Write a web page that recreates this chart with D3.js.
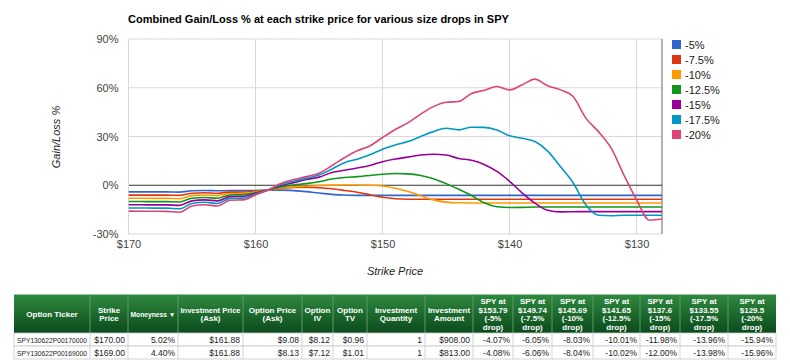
<!DOCTYPE html>
<html>
<head>
<meta charset="utf-8">
<script src="https://cdn.jsdelivr.net/npm/d3@7"></script>
<style>
  html, body { margin: 0; padding: 0; background: #fff; }
  svg { display: block; font-family: Arial, "Liberation Sans", sans-serif; }
</style>
</head>
<body>
<svg id="chart" width="790" height="360"></svg>
<script>
// ---------- DATA ----------
const title = "Combined Gain/Loss % at each strike price for various size drops in SPY";
const strikes = [170,169,168,167,166,165,164,163,162,161,160,159,158,157,156,155,154,153,152,151,150,149,148,147,146,145,144,143,142,141,140,139,138,137,136,135,134,133,132,131,130,129,128];
const seriesNames = ["-5%","-7.5%","-10%","-12.5%","-15%","-17.5%","-20%"];
const seriesColors = ["#3366cc","#dc3912","#ff9900","#109618","#990099","#0099c6","#dd4477"];
const drop5   = [-4.07,-4.08,-4.1,-4.1,-4.2,-3.4,-3.2,-3.4,-3.3,-3.3,-3.2,-3.0,-3.0,-3.3,-3.9,-4.8,-5.6,-6.0,-6.2,-6.2,-6.2,-6.2,-6.2,-6.2,-6.2,-6.2,-6.2,-6.2,-6.2,-6.2,-6.2,-6.2,-6.2,-6.2,-6.2,-6.2,-6.2,-6.2,-6.2,-6.2,-6.2,-6.2,-6.2];
const drop75  = [-6.05,-6.06,-6.1,-6.1,-6.2,-4.9,-4.6,-4.9,-4.2,-4.2,-3.6,-3.0,-2.0,-1.4,-1.2,-1.5,-2.2,-3.2,-4.3,-5.8,-7.4,-8.3,-8.6,-8.6,-8.6,-8.6,-8.6,-8.6,-8.6,-8.6,-8.6,-8.6,-8.6,-8.6,-8.6,-8.6,-8.6,-8.6,-8.6,-8.6,-8.6,-8.6,-8.6];
const drop10  = [-8.03,-8.04,-8.1,-8.1,-8.3,-6.4,-6.0,-6.4,-5.1,-5.0,-4.2,-3.0,-1.8,-1.0,-0.6,-0.2,0.1,0.2,0.2,0.0,-0.5,-1.8,-3.8,-6.4,-9.0,-10.4,-10.8,-10.9,-10.9,-10.9,-10.9,-10.9,-10.9,-10.9,-10.9,-10.9,-10.9,-10.9,-10.9,-10.9,-10.9,-10.9,-10.9];
const drop125 = [-10.01,-10.02,-10.1,-10.1,-10.3,-8.0,-7.5,-8.0,-6.0,-5.8,-4.6,-2.9,-1.0,0.2,1.0,2.2,3.8,4.8,5.3,6.0,6.8,7.2,7.0,6.0,4.0,1.0,-2.5,-6.3,-10.8,-13.2,-13.7,-13.6,-13.4,-13.4,-13.4,-13.4,-13.4,-13.4,-13.4,-13.4,-13.4,-13.4,-13.4];
const drop15  = [-11.98,-12.0,-12.1,-12.1,-12.4,-9.6,-9.0,-9.6,-7.0,-6.8,-5.0,-2.9,-0.2,1.6,3.5,5.0,7.8,9.2,10.6,12.2,14.5,16.1,17.3,18.6,19.1,18.6,16.5,15.4,12.8,8.5,2.4,-4.8,-11.0,-15.4,-16.4,-16.3,-16.2,-16.2,-16.2,-16.2,-16.2,-16.2,-16.2];
const drop175 = [-13.96,-13.98,-14.1,-14.1,-14.5,-11.2,-10.5,-11.2,-8.1,-7.9,-5.5,-2.9,0.4,2.5,4.4,6.3,9.9,13.9,16.0,18.7,22.2,24.8,26.9,30.0,33.0,35.1,34.1,35.7,35.6,34.0,30.4,28.9,26.9,21.0,11.5,1.5,-12.0,-18.5,-18.8,-18.5,-18.5,-18.5,-18.5];
const drop20  = [-15.94,-15.96,-16.0,-16.1,-16.6,-12.8,-12.0,-12.8,-9.2,-9.0,-6.0,-2.9,1.1,3.5,5.3,7.4,12.0,16.9,21.2,24.2,29.4,34.3,38.4,43.8,48.4,51.1,51.5,56.5,58.4,60.8,58.7,61.8,65.3,61.2,58.7,54.6,41.3,33.0,22.8,6.3,-9.0,-21.5,-20.8];
const seriesValues = [drop5, drop75, drop10, drop125, drop15, drop175, drop20];
const yTicks = [-30, 0, 30, 60, 90];
const xTicks = [170, 160, 150, 140, 130];

// Table data
const tableHeaders = [
  ["Option Ticker"], ["Strike", "Price"], ["Moneyness  \u25BC"], ["Investment Price", "(Ask)"],
  ["Option Price", "(Ask)"], ["Option", "IV"], ["Option", "TV"], ["Investment", "Quantity"],
  ["Investment", "Amount"],
  ["SPY at", "$153.79", "(-5%", "drop)"], ["SPY at", "$149.74", "(-7.5%", "drop)"],
  ["SPY at", "$145.69", "(-10%", "drop)"], ["SPY at", "$141.65", "(-12.5%", "drop)"],
  ["SPY at", "$137.6", "(-15%", "drop)"], ["SPY at", "$133.55", "(-17.5%", "drop)"],
  ["SPY at", "$129.5", "(-20%", "drop)"]
];
const tableRows = [
  ["SPY130622P00170000","$170.00","5.02%","$161.88","$9.08","$8.12","$0.96","1","$908.00","-4.07%","-6.05%","-8.03%","-10.01%","-11.98%","-13.96%","-15.94%"],
  ["SPY130622P00169000","$169.00","4.40%","$161.88","$8.13","$7.12","$1.01","1","$813.00","-4.08%","-6.06%","-8.04%","-10.02%","-12.00%","-13.98%","-15.96%"]
];

// ---------- LAYOUT ----------
const svg = d3.select("#chart");
const plot = { left: 128.5, right: 662, top: 39, bottom: 234 };

const x = d3.scaleLinear().domain([170, 128]).range([plot.left, plot.right]);
const y = d3.scaleLinear().domain([-30, 90]).range([plot.bottom, plot.top]);

// Title
svg.append("text").attr("x", 128).attr("y", 23)
  .attr("font-size", 11).attr("font-weight", "bold").attr("fill", "#000")
  .text(title);

// Horizontal gridlines
svg.append("g").selectAll("line").data(yTicks.filter(d => d !== 0)).join("line")
  .attr("x1", plot.left).attr("x2", plot.right)
  .attr("y1", d => y(d)).attr("y2", d => y(d))
  .attr("stroke", "#d9d9d9").attr("stroke-width", 1);

// Vertical gridlines
svg.append("g").selectAll("line").data(xTicks).join("line")
  .attr("x1", d => x(d)).attr("x2", d => x(d))
  .attr("y1", plot.top).attr("y2", plot.bottom)
  .attr("stroke", "#d9d9d9").attr("stroke-width", 1);

// Right edge baseline
svg.append("line").attr("x1", plot.right).attr("x2", plot.right)
  .attr("y1", plot.top).attr("y2", plot.bottom)
  .attr("stroke", "#999").attr("stroke-width", 1.5);

// Y axis labels
const yAxis = d3.axisLeft(y).tickValues(yTicks).tickFormat(d => d + "%").tickSize(0).tickPadding(10);
const gy = svg.append("g").attr("transform", `translate(${plot.left},0)`).call(yAxis);
gy.select(".domain").remove();
gy.selectAll("text").attr("font-size", 11).attr("fill", "#444").attr("font-family", "Arial, 'Liberation Sans', sans-serif");

// X axis labels
const xAxis = d3.axisBottom(x).tickValues(xTicks).tickFormat(d => "$" + d).tickSize(0).tickPadding(6);
const gx = svg.append("g").attr("transform", `translate(0,${plot.bottom})`).call(xAxis);
gx.select(".domain").remove();
gx.selectAll("text").attr("font-size", 11).attr("fill", "#444").attr("font-family", "Arial, 'Liberation Sans', sans-serif");

// Axis titles
svg.append("text").attr("x", 395).attr("y", 275).attr("text-anchor", "middle")
  .attr("font-size", 11).attr("font-style", "italic").attr("fill", "#222").text("Strike Price");
svg.append("text").attr("transform", "translate(60,137) rotate(-90)").attr("text-anchor", "middle")
  .attr("font-size", 11).attr("font-style", "italic").attr("fill", "#222").text("Gain/Loss %");

// Clip
svg.append("clipPath").attr("id", "clip").append("rect")
  .attr("x", plot.left).attr("y", plot.top - 5)
  .attr("width", plot.right - plot.left).attr("height", plot.bottom - plot.top + 10);

// Zero baseline
svg.append("line").attr("x1", plot.left).attr("x2", plot.right)
  .attr("y1", y(0)).attr("y2", y(0)).attr("stroke", "#333").attr("stroke-width", 1);

// Left edge line
svg.append("line").attr("x1", plot.left).attr("x2", plot.left)
  .attr("y1", plot.top).attr("y2", plot.bottom)
  .attr("stroke", "#d9d9d9").attr("stroke-width", 1);

// Lines
const line = d3.line().x((d, i) => x(strikes[i])).y(d => y(d)).curve(d3.curveMonotoneX);
svg.append("g").attr("clip-path", "url(#clip)")
  .selectAll("path").data(seriesValues).join("path")
  .attr("d", d => line(d))
  .attr("fill", "none")
  .attr("stroke", (d, i) => seriesColors[i])
  .attr("stroke-width", 1.6);

// Legend
const legend = svg.append("g").attr("transform", "translate(672,40)");
const li = legend.selectAll("g").data(seriesNames).join("g")
  .attr("transform", (d, i) => `translate(0,${i * 15})`);
li.append("rect").attr("width", 9).attr("height", 9).attr("fill", (d, i) => seriesColors[i]);
li.append("text").attr("x", 13).attr("y", 8.5).attr("font-size", 11).attr("fill", "#222").text(d => d);

// ---------- TABLE ----------
const colEdges = [14, 90, 128, 178, 243, 302, 333, 367, 425, 473, 513, 552, 593, 640, 680, 728, 776];
const tTop = 294.5, hBottom = 333, rowH = 13;
const defs = svg.append("defs");
const grad = defs.append("linearGradient").attr("id", "hdrGrad").attr("x1", 0).attr("y1", 0).attr("x2", 0).attr("y2", 1);
grad.append("stop").attr("offset", "0%").attr("stop-color", "#2f8a3f");
grad.append("stop").attr("offset", "100%").attr("stop-color", "#0b4a1c");

// shrink font-size so text fits its cell
function fit(sel, maxW) {
  sel.each(function() {
    const w = this.getComputedTextLength();
    if (w > maxW) {
      const fs = parseFloat(d3.select(this).attr("font-size"));
      d3.select(this).attr("font-size", (fs * maxW / w).toFixed(2));
    }
  });
}

const table = svg.append("g");
table.append("rect").attr("x", colEdges[0]).attr("y", tTop)
  .attr("width", colEdges[colEdges.length - 1] - colEdges[0]).attr("height", hBottom - tTop)
  .attr("fill", "url(#hdrGrad)");

// header separators
table.selectAll("line.hsep").data(colEdges.slice(1, -1)).join("line")
  .attr("class", "hsep")
  .attr("x1", d => d).attr("x2", d => d).attr("y1", tTop).attr("y2", hBottom)
  .attr("stroke", "#5c9a66").attr("stroke-width", 1);

// header text
tableHeaders.forEach((lines, ci) => {
  const cx = (colEdges[ci] + colEdges[ci + 1]) / 2;
  const cw = colEdges[ci + 1] - colEdges[ci] - 5;
  const lh = 8.4;
  const startY = 314 - (lines.length - 1) * lh / 2 + 3;
  lines.forEach((ln, k) => {
    const t = table.append("text").attr("text-anchor", "middle")
      .attr("x", cx).attr("y", startY + k * lh)
      .attr("font-size", 8).attr("font-weight", "bold").attr("fill", "#fff").text(ln);
    fit(t, cw);
  });
});

// rows
tableRows.forEach((row, ri) => {
  const ry = hBottom + ri * rowH;
  table.append("rect").attr("x", colEdges[0]).attr("y", ry)
    .attr("width", colEdges[colEdges.length - 1] - colEdges[0]).attr("height", rowH)
    .attr("fill", "#fff").attr("stroke", "#c8c8c8").attr("stroke-width", 0.8);
  colEdges.slice(1, -1).forEach(e => {
    table.append("line").attr("x1", e).attr("x2", e).attr("y1", ry).attr("y2", ry + rowH)
      .attr("stroke", "#c8c8c8").attr("stroke-width", 0.8);
  });
  row.forEach((val, ci) => {
    const leftAlign = ci === 0;
    const cw = colEdges[ci + 1] - colEdges[ci] - 6;
    const t = table.append("text")
      .attr("x", leftAlign ? colEdges[ci] + 3 : colEdges[ci + 1] - 3)
      .attr("y", ry + 9.5)
      .attr("text-anchor", leftAlign ? "start" : "end")
      .attr("font-size", 8.5).attr("fill", "#222").text(val);
    fit(t, cw);
  });
});
</script>
</body>
</html>
